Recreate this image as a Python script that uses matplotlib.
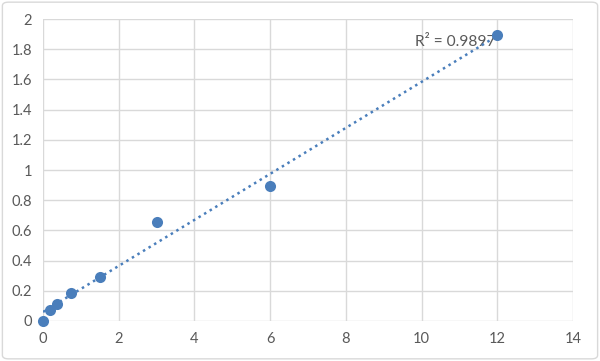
import numpy as np
import matplotlib
matplotlib.use('Agg')
import matplotlib.pyplot as plt
from matplotlib.patches import FancyBboxPatch

# data
conc = [0, 0.1875, 0.375, 0.75, 1.5, 3, 6, 12]
od = [0.0, 0.075, 0.113, 0.185, 0.291, 0.656, 0.894, 1.894]
r2_label = 'R² = 0.9897'

x_ticks = [0, 2, 4, 6, 8, 10, 12, 14]
y_ticks = [0, 0.2, 0.4, 0.6, 0.8, 1, 1.2, 1.4, 1.6, 1.8, 2]

blue = '#4a7ebb'
grey_text = '#595959'
grid_col = '#d9d9d9'

plt.rcParams['font.family'] = ['Lato', 'DejaVu Sans']

fig = plt.figure(figsize=(6, 3.61), dpi=100)
fig.patches.append(FancyBboxPatch((0.004, 0.006), 0.992, 0.988,
                                  boxstyle='round,pad=0,rounding_size=0.01',
                                  transform=fig.transFigure, fill=False,
                                  edgecolor='#d9d9d9', linewidth=1))
ax = fig.add_axes([0.0717, 0.111, 0.8833, 0.836])

# linear trendline over the data range
pol = np.polyfit(conc, od, 1)
fit_x = np.array([min(conc), max(conc)])
ax.plot(fit_x, np.polyval(pol, fit_x), color=blue, linestyle=(0, (1, 1.6)),
        linewidth=1.8, zorder=2)
ax.plot(conc, od, linestyle='None', marker='o', markersize=8,
        color=blue, markeredgewidth=0, zorder=3, clip_on=False)

ax.text(10.9, 1.85, r2_label, color=grey_text, fontsize=11.2,
        ha='center', va='center', zorder=1)

ax.set_xlim(0, 14)
ax.set_ylim(0, 2)
ax.set_xticks(x_ticks)
ax.set_yticks(y_ticks)
ax.set_xticklabels([str(t) for t in x_ticks])
ax.set_yticklabels(['0', '0.2', '0.4', '0.6', '0.8', '1', '1.2', '1.4',
                    '1.6', '1.8', '2'])
ax.tick_params(length=0, labelsize=10.5, labelcolor=grey_text, pad=8)
ax.grid(True, color=grid_col, linewidth=1)
ax.set_axisbelow(True)
for s in ax.spines.values():
    s.set_visible(False)

fig.savefig('out.png', dpi=100)
